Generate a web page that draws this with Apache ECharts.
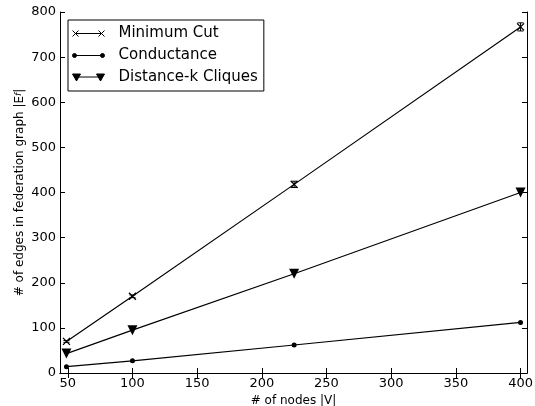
<!DOCTYPE html>
<html><head><meta charset="utf-8">
<script src="https://cdn.jsdelivr.net/npm/echarts@6/dist/echarts.min.js"></script>
<style>html,body{margin:0;padding:0;background:#fff}#c{width:535px;height:406px}</style>
</head><body><div id="c"></div>
<script>
const nodes = [49, 100, 225, 400];
const minCut = [70, 170, 418, 767];
const minCutErr = [2, 3, 7, 9];
const conductance = [14, 27, 62, 112];
const distanceK = [43, 95, 220, 400];
const xTicks = [50, 100, 150, 200, 250, 300, 350, 400];

const font = 'DejaVu Sans';
const chart = echarts.init(document.getElementById('c'), null, {renderer: 'canvas'});
const pts = a => nodes.map((x, i) => [x, a[i]]);
const xSym = 'path://M0,0L10,10M10,0L0,10';

const errData = nodes.map((x, i) => [x, minCut[i] - minCutErr[i], minCut[i] + minCutErr[i]]);

// legend icons: marker at both ends joined by a line (32 px wide)
const iconX = 'path://M0,0L6,6M6,0L0,6M26,0L32,6M32,0L26,6M3,3L29,3';
const iconDot = 'path://M0,2A2,2 0 1,0 4,2A2,2 0 1,0 0,2ZM28,2A2,2 0 1,0 32,2A2,2 0 1,0 28,2ZM2,2L30,2';
const iconTri = 'path://M0,0L8,0L4,7ZM24,0L32,0L28,7ZM4,3L28,3';

const axisCommon = {
  axisLine: {show: true, lineStyle: {color: '#000', width: 1}},
  axisTick: {show: true, inside: true, length: 5, lineStyle: {color: '#000'}},
  splitLine: {show: false}
};

chart.setOption({
  animation: false,
  backgroundColor: '#fff',
  grid: {left: 60, right: 8, top: 12, bottom: 33, containLabel: false, outerBoundsMode: 'none'},
  legend: {
    left: 68, top: 20, orient: 'vertical',
    itemWidth: 32, itemHeight: 9, itemGap: 7,
    padding: [6, 6, 6, 4],
    symbolKeepAspect: true,
    borderColor: '#000', borderWidth: 1, backgroundColor: '#fff',
    textStyle: {fontFamily: font, fontSize: 15, color: '#000', padding: [0, 0, 0, 9]},
    data: [
      {name: 'Minimum Cut', icon: iconX, itemStyle: {color: 'transparent', borderColor: '#000', borderWidth: 1}},
      {name: 'Conductance', icon: iconDot, itemStyle: {color: '#000', borderColor: '#000', borderWidth: 1}},
      {name: 'Distance-k Cliques', icon: iconTri, itemStyle: {color: '#000', borderColor: '#000', borderWidth: 1}}
    ]
  },
  xAxis: [{
    type: 'value', min: 44, max: 405, position: 'bottom',
    name: '# of nodes |V|', nameLocation: 'middle', nameGap: 22, nameMoveOverlap: false,
    nameTextStyle: {fontFamily: font, fontSize: 12, color: '#000'},
    ...axisCommon,
    axisTick: {show: true, inside: true, length: 5, lineStyle: {color: '#000'}, customValues: xTicks},
    axisLabel: {fontFamily: font, fontSize: 13, color: '#000', margin: 4, customValues: xTicks}
  }, {
    type: 'value', min: 44, max: 405, position: 'top',
    ...axisCommon,
    axisTick: {show: true, inside: true, length: 5, lineStyle: {color: '#000'}, customValues: xTicks},
    axisLabel: {show: false}
  }],
  yAxis: [{
    type: 'value', min: 0, max: 800, interval: 100, position: 'left',
    name: '# of edges in federation graph |E{i|f}|', nameLocation: 'middle', nameGap: 34, nameMoveOverlap: false,
    nameTextStyle: {fontFamily: font, fontSize: 12, color: '#000', rich: {i: {fontFamily: font, fontStyle: 'italic', fontSize: 9, verticalAlign: 'top', color: '#000'}}},
    ...axisCommon,
    axisLabel: {fontFamily: font, fontSize: 13, color: '#000', margin: 4}
  }, {
    type: 'value', min: 0, max: 800, interval: 100, position: 'right',
    ...axisCommon,
    axisLabel: {show: false}
  }],
  series: [{
    name: 'Minimum Cut', type: 'line', data: pts(minCut),
    symbol: xSym, symbolSize: 7,
    lineStyle: {color: '#000', width: 1.2},
    itemStyle: {color: 'transparent', borderColor: '#000', borderWidth: 1.3},
    z: 3
  }, {
    name: 'Conductance', type: 'line', data: pts(conductance),
    symbol: 'circle', symbolSize: 5,
    lineStyle: {color: '#000', width: 1.2},
    itemStyle: {color: '#000'}
  }, {
    name: 'Distance-k Cliques', type: 'line', data: pts(distanceK),
    symbol: 'triangle', symbolRotate: 180, symbolSize: 10,
    lineStyle: {color: '#000', width: 1.2},
    itemStyle: {color: '#000'}
  }, {
    type: 'custom', data: errData, z: 4,
    renderItem: (params, api) => {
      const x = api.value(0);
      const lo = api.coord([x, api.value(1)]);
      const hi = api.coord([x, api.value(2)]);
      const w = 3;
      return {type: 'group', children: [
        {type: 'line', shape: {x1: lo[0], y1: lo[1], x2: hi[0], y2: hi[1]}, style: {stroke: '#000', lineWidth: 1}},
        {type: 'line', shape: {x1: lo[0]-w, y1: lo[1], x2: lo[0]+w, y2: lo[1]}, style: {stroke: '#000', lineWidth: 1}},
        {type: 'line', shape: {x1: hi[0]-w, y1: hi[1], x2: hi[0]+w, y2: hi[1]}, style: {stroke: '#000', lineWidth: 1}}
      ]};
    }
  }]
});
</script></body></html>
